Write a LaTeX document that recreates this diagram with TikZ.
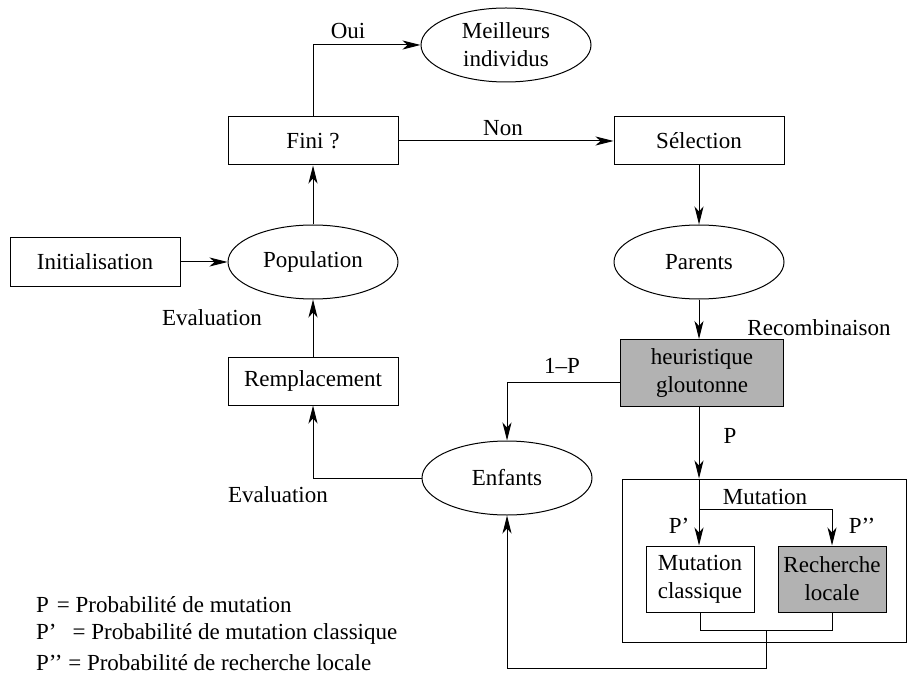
\documentclass[tikz,border=0pt]{standalone}
\usepackage{fontspec}
\setmainfont{Liberation Serif}
\usetikzlibrary{arrows.meta,shapes.geometric}

\tikzset{
  boite/.style = {draw, minimum width=85pt, minimum height=24pt, align=center, inner sep=1pt},
  elli/.style = {draw, ellipse, minimum width=85pt, minimum height=37pt, align=center, inner sep=1pt},
  grisbox/.style = {draw, fill=gray!60, align=center, inner sep=1pt},
  petite/.style = {draw, minimum width=54pt, minimum height=33pt, align=center, inner sep=1pt},
  fleche/.style = {-{Stealth[length=9pt, width=4.5pt, inset=2.5pt]}},
}

\begin{document}
\begin{tikzpicture}[x=0.5pt, y=-0.5pt, line width=0.5pt, font=\fontsize{11.5}{14}\selectfont]
  \useasboundingbox (0,0) rectangle (908,673);

  % noeuds de la boucle
  \node[elli]  (meilleurs)    at (506,45)  {Meilleurs\\individus};
  \node[boite] (fini)         at (313,141) {Fini ?};
  \node[boite] (selection)    at (699,141) {Sélection};
  \node[boite] (init)         at (95,262)  {Initialisation};
  \node[elli]  (population)   at (313,262) {Population};
  \node[elli]  (parents)      at (699,262) {Parents};
  \node[boite] (remplacement) at (313,381) {Remplacement};
  \node[grisbox, minimum width=81.5pt, minimum height=33.5pt] (heuristique) at (702,373) {heuristique\\gloutonne};
  \node[elli]  (enfants)      at (507,478) {Enfants};

  % bloc mutation
  \node[draw, minimum width=142pt, minimum height=81.5pt] (mutation) at (764,560.5) {};
  \node[petite] (classique) at (700,579) {Mutation\\classique};
  \node[petite, fill=gray!60] (locale) at (832,579) {Recherche\\locale};

  % connecteurs
  \draw[fleche] (fini.north) |- (meilleurs.west);
  \draw[fleche] (fini) -- (selection);
  \draw[fleche] (selection) -- (parents);
  \draw[fleche] (parents.south) -- (parents.south |- heuristique.north);
  \draw[fleche] (init) -- (population);
  \draw[fleche] (population) -- (fini);
  \draw[fleche] (remplacement) -- (population);
  \draw[fleche] ([yshift=-4.5pt]heuristique.west) -| (enfants.north);
  \draw[fleche] (enfants.west) -| (remplacement.south);
  \draw[fleche] (heuristique.south -| parents) -- (mutation.north -| parents);

  \coordinate (branche) at (699,509);
  \draw (mutation.north -| parents) -- (branche);
  \draw[fleche] (branche) -- (branche |- classique.north);
  \draw[fleche] (branche) -| (locale.north);
  \draw (classique.south) -- ++(0,18) -| (locale.south);
  \coordinate (jonction) at (766,630);
  \draw[fleche] (jonction) -- (766,668) -| (enfants.south);

  % etiquettes
  \node (oui)    at (348,31)  {Oui};
  \node (non)    at (503,128) {Non};
  \node (recomb) at (819,328) {Recombinaison};
  \node (eval1)  at (212,318) {Evaluation};
  \node (eval2)  at (278,495) {Evaluation};
  \node (unmp)   at (562,366) {1–P};
  \node (p)      at (730,436) {P};
  \node (mut)    at (765,497) {Mutation};
  \node (p1)     at (679,526) {P’};
  \node (p2)     at (862,526) {P’’};

  % legende
  \node[anchor=west] (leg1) at (29,605) {P\hspace{4pt}= Probabilité de mutation};
  \node[anchor=west] (leg2) at (29,634) {P’\hspace{8pt}= Probabilité de mutation classique};
  \node[anchor=west] (leg3) at (29,663) {P’’ = Probabilité de recherche locale};
\end{tikzpicture}
\end{document}
